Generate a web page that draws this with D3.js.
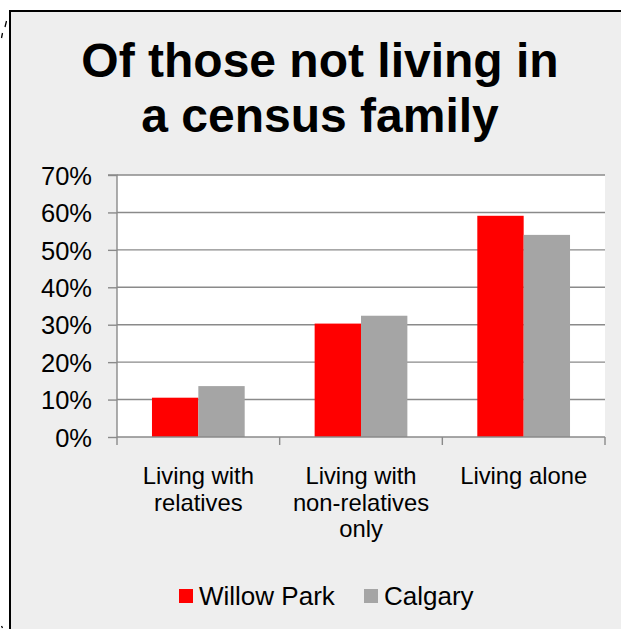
<!DOCTYPE html>
<html><head><meta charset="utf-8">
<script src="https://cdn.jsdelivr.net/npm/d3@7"></script>
<style>
html,body{margin:0;padding:0;background:#fff;}
svg{display:block;font-family:"Liberation Sans",Arial,sans-serif;}
</style></head>
<body>
<svg id="chart" width="621" height="629"></svg>
<script>
const titleLines = ["Of those not living in", "a census family"];
const categories = [["Living with","relatives"], ["Living with","non-relatives","only"], ["Living alone"]];
const seriesNames = ["Willow Park", "Calgary"];
const willowPark = [0.105, 0.303, 0.591];
const calgary = [0.136, 0.324, 0.540];
const yTicks = [0, 0.1, 0.2, 0.3, 0.4, 0.5, 0.6, 0.7];
const colors = ["#ff0000", "#a5a5a5"];

(function(){
const svg = d3.select("#chart");
// frame
svg.append("rect").attr("x",10).attr("y",11).attr("width",640).attr("height",640)
  .attr("fill","#eeeeee").attr("stroke","#000").attr("stroke-width",2);
// small stray marks
svg.append("path").attr("d","M6.5,21 L5,27 M2.5,33 L1.5,38 M1.5,626 L2.5,628").attr("stroke","#000").attr("stroke-width",1.3);

// title
const title = svg.append("text").attr("text-anchor","middle").attr("font-weight","bold")
  .attr("font-size",48).attr("fill","#000");
titleLines.forEach((t,i)=>title.append("tspan").attr("x",320).attr("y",77+i*55).text(t));

const pLeft=117, pRight=605, pTop=175, pBottom=437;
const y = d3.scaleLinear().domain([0,0.7]).range([pBottom, pTop]);
const x0 = d3.scaleBand().domain(d3.range(categories.length)).range([pLeft,pRight])
  .paddingInner(0.43).paddingOuter(0.215);
const x1 = d3.scaleBand().domain(d3.range(seriesNames.length)).range([0, x0.bandwidth()]);

svg.append("rect").attr("x",pLeft).attr("y",pTop).attr("width",pRight-pLeft).attr("height",pBottom-pTop).attr("fill","#fff");

const gridColor = "#8a8a8a";
// gridlines
svg.append("g").selectAll("line").data(yTicks.slice(1)).join("line")
  .attr("x1",pLeft).attr("x2",pRight).attr("y1",d=>y(d)).attr("y2",d=>y(d))
  .attr("stroke",gridColor).attr("stroke-width",1.4);

// bars
const series = [willowPark, calgary];
series.forEach((vals, s) => {
  svg.append("g").selectAll("rect").data(vals).join("rect")
    .attr("x",(d,i)=>x0(i)+x1(s)).attr("width",x1.bandwidth())
    .attr("y",d=>y(d)).attr("height",d=>y(0)-y(d))
    .attr("fill",colors[s]);
});

// y axis
const yAxis = d3.axisLeft(y).tickValues(yTicks).tickFormat(d3.format(".0%")).tickSize(9).tickPadding(16);
const gy = svg.append("g").attr("transform",`translate(${pLeft},0)`).call(yAxis);
gy.select(".domain").attr("stroke",gridColor).attr("stroke-width",1.4).attr("d",`M-9,${pTop}H0V${pBottom}`);
gy.selectAll(".tick line").attr("stroke",gridColor).attr("stroke-width",1.4);
gy.selectAll(".tick text").attr("font-size",25.5).attr("fill","#000").attr("font-family","Liberation Sans, Arial, sans-serif").attr("dy","0.36em");

// x axis
const boundaries = d3.range(categories.length+1).map(i=>pLeft + i*x0.step());
const gx = svg.append("g");
gx.append("line").attr("x1",pLeft).attr("x2",pRight).attr("y1",pBottom).attr("y2",pBottom)
  .attr("stroke",gridColor).attr("stroke-width",1.4);
gx.selectAll("line.t").data(boundaries).join("line").attr("class","t")
  .attr("x1",d=>d).attr("x2",d=>d).attr("y1",pBottom).attr("y2",pBottom+8)
  .attr("stroke",gridColor).attr("stroke-width",1.4);

// category labels
categories.forEach((lines,i)=>{
  const t = svg.append("text").attr("text-anchor","middle").attr("font-size",23.8).attr("fill","#000");
  lines.forEach((l,j)=>t.append("tspan").attr("x",x0(i)+x0.bandwidth()/2).attr("y",484+j*26.5).text(l));
});

// legend
const legendX = [179, 364];
seriesNames.forEach((n,i)=>{
  svg.append("rect").attr("x",legendX[i]).attr("y",589).attr("width",14).attr("height",14).attr("fill",colors[i]);
  svg.append("text").attr("x",legendX[i]+20).attr("y",605).attr("font-size",26).attr("fill","#000").text(n);
});
})();
</script>
</body></html>
